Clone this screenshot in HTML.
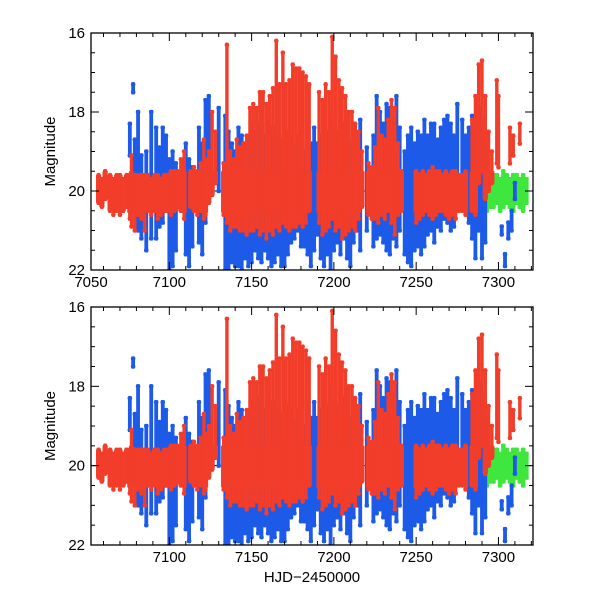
<!DOCTYPE html>
<html><head><meta charset="utf-8"><style>
html,body{margin:0;padding:0;background:#fff;}
svg text{font-family:"Liberation Sans",sans-serif;font-size:15px;fill:#000;}
</style></head><body>
<svg id="chart" width="600" height="600" viewBox="0 0 600 600" xmlns="http://www.w3.org/2000/svg"></svg>
<script>
const redDays=[7057,7059,7061,7064,7066,7068,7070,7072,7074,7076,7077,7079,7081,7083,7085,7087,7089,7091,7093,7095,7097,7099,7101,7103,7105,7107,7109,7113,7115,7117,7119,7121,7122,7124,7126,7128,7133,7135,7137,7139,7141,7143,7145,7147,7149,7151,7153,7155,7157,7159,7161,7163,7165,7167,7169,7171,7173,7175,7177,7179,7181,7183,7185,7191,7193,7195,7197,7199,7201,7203,7205,7207,7209,7211,7213,7215,7217,7221,7223,7225,7227,7229,7231,7233,7235,7237,7239,7241,7250,7252,7254,7256,7258,7260,7262,7264,7266,7268,7270,7272,7274,7276,7278,7280,7284,7286,7288,7290,7292,7294,7296,7299,7300,7307,7309,7313];
const redHi=[19.6,19.7,19.5,19.6,19.7,19.6,19.6,19.7,19.6,19.6,19.1,19.6,19.6,19.6,19.6,19.6,19.7,19.6,19.6,19.7,19.6,19.6,19.5,19.5,19.5,19.2,19.0,19.5,19.4,19.5,19.3,18.7,19.2,19.0,18.0,18.5,19.3,16.3,19.0,19.2,18.7,18.9,18.8,18.6,17.9,17.8,17.9,17.5,17.5,17.8,17.6,17.4,16.2,17.3,16.5,17.3,17.2,16.8,16.9,16.9,17.0,17.1,17.3,17.5,17.7,17.3,17.5,16.1,16.6,17.2,17.4,17.6,18.0,18.0,18.3,18.5,19.0,19.3,19.4,18.9,17.9,18.6,18.7,18.2,17.7,17.9,18.8,19.5,19.5,19.6,19.5,19.6,19.5,19.4,19.5,19.5,19.6,19.5,19.6,19.5,19.5,19.6,19.6,19.5,18.2,17.6,16.8,16.7,17.6,18.5,19.0,17.2,17.6,18.4,18.6,18.3];
const redLo=[20.3,20.4,20.2,20.5,20.6,20.5,20.6,20.5,20.4,20.7,20.9,21.0,20.6,20.7,21.0,20.5,20.6,20.5,20.7,20.6,20.5,20.5,20.6,20.5,20.4,20.5,20.7,20.4,20.5,20.6,20.5,20.7,20.6,20.3,20.1,19.8,20.6,20.8,21.0,20.9,20.9,21.0,21.0,21.1,21.0,21.0,20.9,21.1,21.0,21.2,21.0,21.1,20.9,21.0,20.8,20.9,21.0,20.9,20.9,20.8,20.9,20.8,20.5,20.8,21.1,21.0,20.9,20.7,21.0,20.9,21.2,21.1,21.0,20.9,21.0,20.7,20.4,20.6,20.7,20.7,20.8,20.6,20.7,20.5,20.8,21.1,20.6,20.5,20.8,20.7,20.6,20.5,20.6,20.7,20.6,20.5,20.5,20.6,20.7,20.6,20.7,20.5,20.5,20.6,20.5,20.6,19.8,19.5,20.2,20.0,19.8,19.3,19.4,19.3,19.1,18.8];
const blueDays=[7076,7078,7079,7081,7083,7086,7089,7092,7094,7096,7098,7100,7102,7104,7110,7112,7114,7118,7120,7122,7124,7130,7134,7136,7138,7140,7142,7144,7146,7148,7150,7152,7154,7156,7158,7160,7162,7164,7166,7168,7170,7172,7174,7176,7178,7180,7182,7184,7186,7188,7190,7192,7194,7196,7198,7200,7202,7204,7206,7208,7210,7212,7214,7216,7220,7224,7226,7228,7230,7232,7234,7236,7238,7240,7243,7245,7247,7249,7251,7253,7255,7257,7259,7261,7263,7265,7267,7269,7271,7273,7275,7278,7280,7282,7284,7286,7288,7290,7292,7302,7304,7306,7308,7310];
const blueHi=[18.3,17.3,18.7,18.0,19.1,19.0,18.0,18.4,18.9,18.4,18.6,19.2,19.0,19.3,18.8,19.2,19.4,18.4,18.8,17.7,17.6,17.9,18.1,18.5,18.8,19.0,18.4,18.6,18.8,18.7,18.4,18.5,18.3,18.3,18.6,18.2,18.4,18.4,18.6,18.7,18.8,18.5,18.6,18.9,18.6,18.7,19.0,18.9,18.8,18.4,18.8,18.6,18.3,18.5,18.0,18.4,18.5,18.4,18.3,18.6,18.8,18.3,18.7,18.2,18.9,18.6,17.6,18.0,18.3,17.8,17.9,18.2,17.6,18.4,19.0,18.6,18.4,18.8,18.5,18.6,18.2,18.6,18.3,18.3,18.7,18.4,18.2,18.1,18.3,18.6,17.8,18.2,18.6,18.4,18.1,18.3,17.9,18.2,18.7,20.9,21.6,20.8,20.5,19.8];
const blueLo=[19.1,17.5,20.5,21.0,21.2,21.5,21.2,21.2,20.9,20.8,20.5,22.0,21.9,21.5,21.6,21.9,21.4,21.3,21.6,20.8,19.5,20.0,22.0,22.0,21.8,21.9,21.9,22.0,21.7,21.9,21.8,21.5,21.7,21.8,21.5,21.7,21.9,21.8,21.6,21.9,21.9,21.6,21.3,21.2,21.0,21.4,21.4,21.6,21.9,21.5,21.1,21.7,21.9,21.6,22.0,21.5,21.3,21.6,21.2,21.7,21.9,21.3,21.0,21.5,21.0,21.4,21.2,21.1,21.3,21.5,21.6,21.2,21.4,21.0,21.6,21.8,21.9,21.5,21.4,21.6,21.4,21.1,21.0,21.3,20.9,21.0,20.7,20.8,21.0,20.9,20.4,20.1,20.5,20.8,21.2,21.7,21.0,21.7,21.3,21.1,21.9,21.2,21.0,20.2];
const greenDays=[7186,7188,7216,7238,7250,7282,7285,7287,7289,7291,7293,7295,7297,7299,7301,7303,7305,7307,7309,7311,7313,7315,7317];
const greenHi=[19.8,19.7,19.7,19.8,19.7,19.6,19.6,19.5,19.6,19.6,19.6,19.7,19.6,19.6,19.7,19.5,19.6,19.7,19.6,19.6,19.7,19.6,19.7];
const greenLo=[20.4,20.5,20.3,20.3,20.3,20.3,20.4,20.5,20.6,20.5,20.5,20.4,20.4,20.3,20.5,20.4,20.3,20.4,20.5,20.3,20.4,20.5,20.3];
const xTickLabelsTop=[7050,7100,7150,7200,7250,7300];
const xTickLabelsBottom=[7100,7150,7200,7250,7300];
const yTickLabels=[16,18,20,22];

const NS="http://www.w3.org/2000/svg";
const svg=document.getElementById('chart');
const X0=91,X1=533,D0=7052.4,D1=7321;
function xs(d){return X0+(d-D0)/(D1-D0)*(X1-X0);}
function mk(tag,attrs,parent){const e=document.createElementNS(NS,tag);for(const k in attrs)e.setAttribute(k,attrs[k]);(parent||svg).appendChild(e);return e;}

function panel(top,bottom,labels,pname){
  const g=mk('g',{});
  
  
  const ys=m=>top+(m-16)/6*(bottom-top);
  const clipId='clip-'+pname;
  const cp=mk('clipPath',{id:clipId},g);
  mk('rect',{x:X0,y:top,width:X1-X0,height:bottom-top},cp);
  const ref=mk('line',{x1:X0,x2:X1,y1:ys(20),y2:ys(20),stroke:'#000','stroke-width':1},g);
  
  
  const dg=mk('g',{'clip-path':'url(#'+clipId+')'},g);
  
  
  function series(days,hi,lo,col,name,w,core){
    const sg=mk('g',{},dg);
    
    
    for(let i=0;i<days.length;i++){
      const x=xs(days[i]),y1=ys(hi[i]),y2=ys(lo[i]);
      const r=mk('rect',{x:x-w/2,y:y1-2,width:w,height:Math.max(4,y2-y1+4),fill:col},sg);
      
      
      const d=mk('circle',{cx:x,cy:y1,r:2.3,fill:col},sg);
      
      
      const d2=mk('circle',{cx:x,cy:y2,r:2.3,fill:col},sg);
      
      
      if(core){
        const a=ys(Math.max(hi[i],19.5)),b=ys(Math.min(lo[i],20.55));
        if(b>a){
          const c=mk('rect',{x:x-2.6,y:a,width:5.2,height:b-a,fill:col},sg);
          
          
        }
      }
    }
  }
  series(greenDays,greenHi,greenLo,'#3ee63e','green-series',4.4,false);
  series(blueDays,blueHi,blueLo,'#1d5ae8','blue-series',3.8,false);
  series(redDays,redHi,redLo,'#f23d2a','red-series',3.4,true);
  for(let d=7060;d<=7320;d+=10){
    const x=xs(d),L=(d%50===0)?8:4;
    mk('line',{x1:x,x2:x,y1:bottom,y2:bottom-L,stroke:'#000','stroke-width':1},g);
    mk('line',{x1:x,x2:x,y1:top,y2:top+L,stroke:'#000','stroke-width':1},g);
  }
  for(let m=16;m<=22;m+=0.5){
    const y=ys(m),L=(m%2===0)?8:4;
    mk('line',{x1:X0,x2:X0+L,y1:y,y2:y,stroke:'#000','stroke-width':1},g);
    mk('line',{x1:X1,x2:X1-L,y1:y,y2:y,stroke:'#000','stroke-width':1},g);
  }
  const fr=mk('rect',{x:X0,y:top,width:X1-X0,height:bottom-top,fill:'none',stroke:'#000','stroke-width':1.3},g);
  
  
  labels.forEach(v=>{
    const t=mk('text',{x:Math.max(xs(v),91),y:bottom+17,'text-anchor':'middle'},g);
    t.textContent=v;
    
    
  });
  yTickLabels.forEach(v=>{
    const t=mk('text',{x:X0-6,y:ys(v)+5,'text-anchor':'end'},g);
    t.textContent=v;
    
    
  });
  const yt=mk('text',{x:0,y:0,'text-anchor':'middle','font-size':'16',transform:'translate(55,'+((top+bottom)/2)+') rotate(-90)'},g);
  yt.textContent='Magnitude';
  
  
}
panel(33,270,xTickLabelsTop,'top-panel');
panel(307,545,xTickLabelsBottom,'bottom-panel');
const xt=mk('text',{x:312,y:582,'text-anchor':'middle','font-size':'16'});
xt.textContent='HJD\u22122450000';


</script>
</body></html>
